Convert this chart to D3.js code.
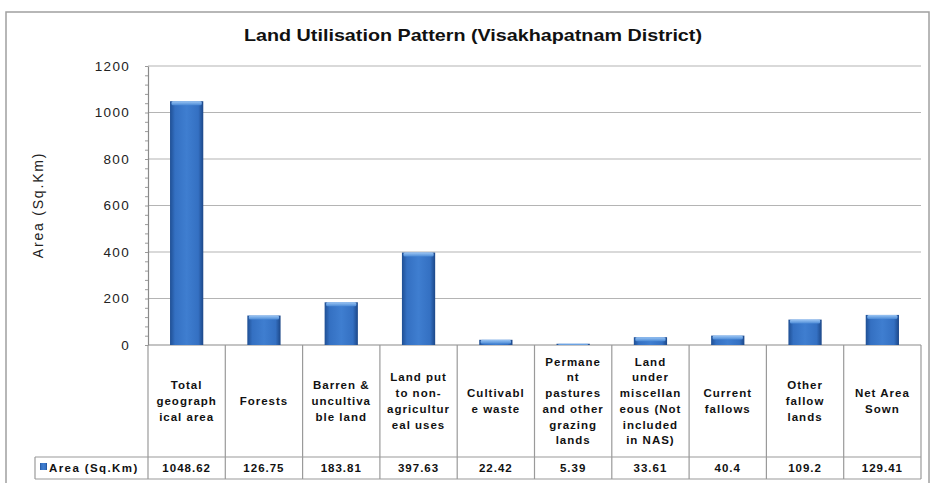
<!DOCTYPE html>
<html>
<head>
<meta charset="utf-8">
<script src="https://cdn.jsdelivr.net/npm/d3@7"></script>
<style>
  body { margin: 0; background: #fff; }
  text { font-family: "Liberation Sans", Arial, sans-serif; }
</style>
</head>
<body>
<div id="chart"></div>
<script>
// data
const categories = [
    ["Total", "geograph", "ical area"],
    ["Forests"],
    ["Barren &", "uncultiva", "ble land"],
    ["Land put", "to non-", "agricultur", "eal uses"],
    ["Cultivabl", "e waste"],
    ["Permane", "nt", "pastures", "and other", "grazing", "lands"],
    ["Land", "under", "miscellan", "eous (Not", "included", "in NAS)"],
    ["Current", "fallows"],
    ["Other", "fallow", "lands"],
    ["Net Area", "Sown"]
]
const areaValues = [1048.62, 126.75, 183.81, 397.63, 22.42, 5.39, 33.61, 40.4, 109.2, 129.41]
const valueLabels = ["1048.62", "126.75", "183.81", "397.63", "22.42", "5.39", "33.61", "40.4", "109.2", "129.41"]
const yTicks = [0, 200, 400, 600, 800, 1000, 1200]
const seriesName = "Area (Sq.Km)"

const width = 936
const height = 483
const margin = { top: 66, left: 148, right: 15, bottom: 138 }
const plotBottom = height - margin.bottom   // 345
const headerBottom = 457
const tableBottom = 479

const svg = d3.select("#chart")
    .append("svg")
    .attr("width", width)
    .attr("height", height)

// gradients for the bars
const defs = svg.append("defs")
const grad = defs.append("linearGradient").attr("id", "barGrad")
    .attr("x1", "0%").attr("x2", "100%").attr("y1", "0%").attr("y2", "0%")
grad.append("stop").attr("offset", "0%").attr("stop-color", "#1f4f94")
grad.append("stop").attr("offset", "15%").attr("stop-color", "#3470c2")
grad.append("stop").attr("offset", "50%").attr("stop-color", "#3f7ed0")
grad.append("stop").attr("offset", "85%").attr("stop-color", "#3470c2")
grad.append("stop").attr("offset", "100%").attr("stop-color", "#1c4788")
const topGrad = defs.append("linearGradient").attr("id", "topGrad")
    .attr("x1", "0%").attr("x2", "0%").attr("y1", "0%").attr("y2", "100%")
topGrad.append("stop").attr("offset", "0%").attr("stop-color", "#9cc6f4")
topGrad.append("stop").attr("offset", "100%").attr("stop-color", "#4b8ad6")

// outer frame
svg.append("rect")
    .attr("x", 6).attr("y", 12)
    .attr("width", 923).attr("height", 480)
    .attr("fill", "none")
    .attr("stroke", "#a0a0a0")
    .attr("stroke-width", 1.5)

// title
svg.append("text")
    .attr("x", 473).attr("y", 41)
    .attr("text-anchor", "middle")
    .attr("font-size", 16.5)
    .attr("font-weight", "bold")
    .attr("fill", "#111")
    .attr("textLength", 458)
    .attr("lengthAdjust", "spacingAndGlyphs")
    .text("Land Utilisation Pattern (Visakhapatnam District)")

// scales
const x = d3.scaleBand()
    .domain(d3.range(categories.length))
    .range([margin.left, width - margin.right])
    .paddingInner(0)
const y = d3.scaleLinear()
    .domain([0, 1200])
    .range([plotBottom, margin.top])

// gridlines
svg.append("g")
    .selectAll("line")
    .data(yTicks)
    .join("line")
    .attr("x1", margin.left).attr("x2", width - margin.right)
    .attr("y1", d => y(d)).attr("y2", d => y(d))
    .attr("stroke", d => d === 0 ? "#8a8a8a" : "#b4b4b4")
    .attr("stroke-width", 1.2)

// y axis
const yAxis = d3.axisLeft(y).tickValues(yTicks).tickSize(0).tickPadding(18).tickFormat(d3.format("d"))
const yAxisGroup = svg.append("g")
    .attr("transform", `translate(${margin.left},0)`)
    .call(yAxis)
yAxisGroup.select(".domain").attr("stroke", "#8a8a8a").attr("stroke-width", 1.2)
yAxisGroup.selectAll("text")
    .attr("font-size", 13.5)
    .attr("font-family", "'Liberation Sans', Arial, sans-serif")
    .attr("letter-spacing", 1.3)
    .attr("fill", "#222")

// minor ticks
const minorAxis = d3.axisLeft(y).tickValues(d3.range(0, 1201, 40)).tickSize(3).tickFormat("")
const minorGroup = svg.append("g")
    .attr("transform", `translate(${margin.left},0)`)
    .call(minorAxis)
minorGroup.select(".domain").remove()
minorGroup.selectAll("line").attr("stroke", "#9a9a9a")

// y axis title
svg.append("text")
    .attr("transform", `translate(43, 205) rotate(-90)`)
    .attr("text-anchor", "middle")
    .attr("font-size", 14)
    .attr("letter-spacing", 1.8)
    .attr("fill", "#222")
    .text("Area (Sq.Km)")

// bars
const barW = x.bandwidth() * 0.43
const bars = svg.append("g")
bars.selectAll("rect.bar")
    .data(areaValues)
    .join("rect")
    .attr("class", "bar")
    .attr("x", (d, i) => x(i) + (x.bandwidth() - barW) / 2)
    .attr("y", d => y(d))
    .attr("width", barW)
    .attr("height", d => plotBottom - y(d))
    .attr("fill", "url(#barGrad)")
bars.selectAll("rect.top")
    .data(areaValues)
    .join("rect")
    .attr("class", "top")
    .attr("x", (d, i) => x(i) + (x.bandwidth() - barW) / 2 + 1.5)
    .attr("y", d => y(d))
    .attr("width", barW - 3)
    .attr("height", d => Math.min(4, plotBottom - y(d)))
    .attr("rx", 1.5)
    .attr("fill", "url(#topGrad)")

// data table
const table = svg.append("g")
const bounds = d3.range(categories.length + 1).map(i => i < categories.length ? x(i) : x.range()[1])
table.selectAll("line.v")
    .data(bounds)
    .join("line")
    .attr("class", "v")
    .attr("x1", d => d).attr("x2", d => d)
    .attr("y1", plotBottom).attr("y2", tableBottom)
    .attr("stroke", "#9a9a9a")
    .attr("stroke-width", 1.2)
table.append("line")
    .attr("x1", 35).attr("x2", x.range()[1])
    .attr("y1", headerBottom).attr("y2", headerBottom)
    .attr("stroke", "#9a9a9a").attr("stroke-width", 1.2)
table.append("line")
    .attr("x1", 35).attr("x2", x.range()[1])
    .attr("y1", tableBottom).attr("y2", tableBottom)
    .attr("stroke", "#9a9a9a").attr("stroke-width", 1.2)
table.append("line")
    .attr("x1", 35).attr("x2", 35)
    .attr("y1", headerBottom).attr("y2", tableBottom)
    .attr("stroke", "#9a9a9a").attr("stroke-width", 1.2)

// category headers
const lineH = 15.7
const headerMid = (plotBottom + headerBottom) / 2
categories.forEach((lines, i) => {
    const t = table.append("text")
        .attr("text-anchor", "middle")
        .attr("font-size", 11.5)
        .attr("font-weight", "bold")
        .attr("letter-spacing", 1)
        .attr("fill", "#111")
    const y0 = headerMid - (lines.length - 1) * lineH / 2 + 4
    lines.forEach((s, k) => {
        t.append("tspan")
            .attr("x", x(i) + x.bandwidth() / 2)
            .attr("y", y0 + k * lineH)
            .text(s)
    })
})

// values row
table.selectAll("text.val")
    .data(valueLabels)
    .join("text")
    .attr("class", "val")
    .attr("x", (d, i) => x(i) + x.bandwidth() / 2)
    .attr("y", 472)
    .attr("text-anchor", "middle")
    .attr("font-size", 11.5)
    .attr("font-weight", "bold")
    .attr("letter-spacing", 1)
    .attr("fill", "#111")
    .text(d => d)

// legend key
table.append("rect")
    .attr("x", 40).attr("y", 463)
    .attr("width", 7).attr("height", 7)
    .attr("fill", "url(#barGrad)")
table.append("text")
    .attr("x", 49).attr("y", 472)
    .attr("font-size", 11.5)
    .attr("font-weight", "bold")
    .attr("letter-spacing", 1.4)
    .attr("fill", "#111")
    .text(seriesName)
</script>
</body>
</html>
